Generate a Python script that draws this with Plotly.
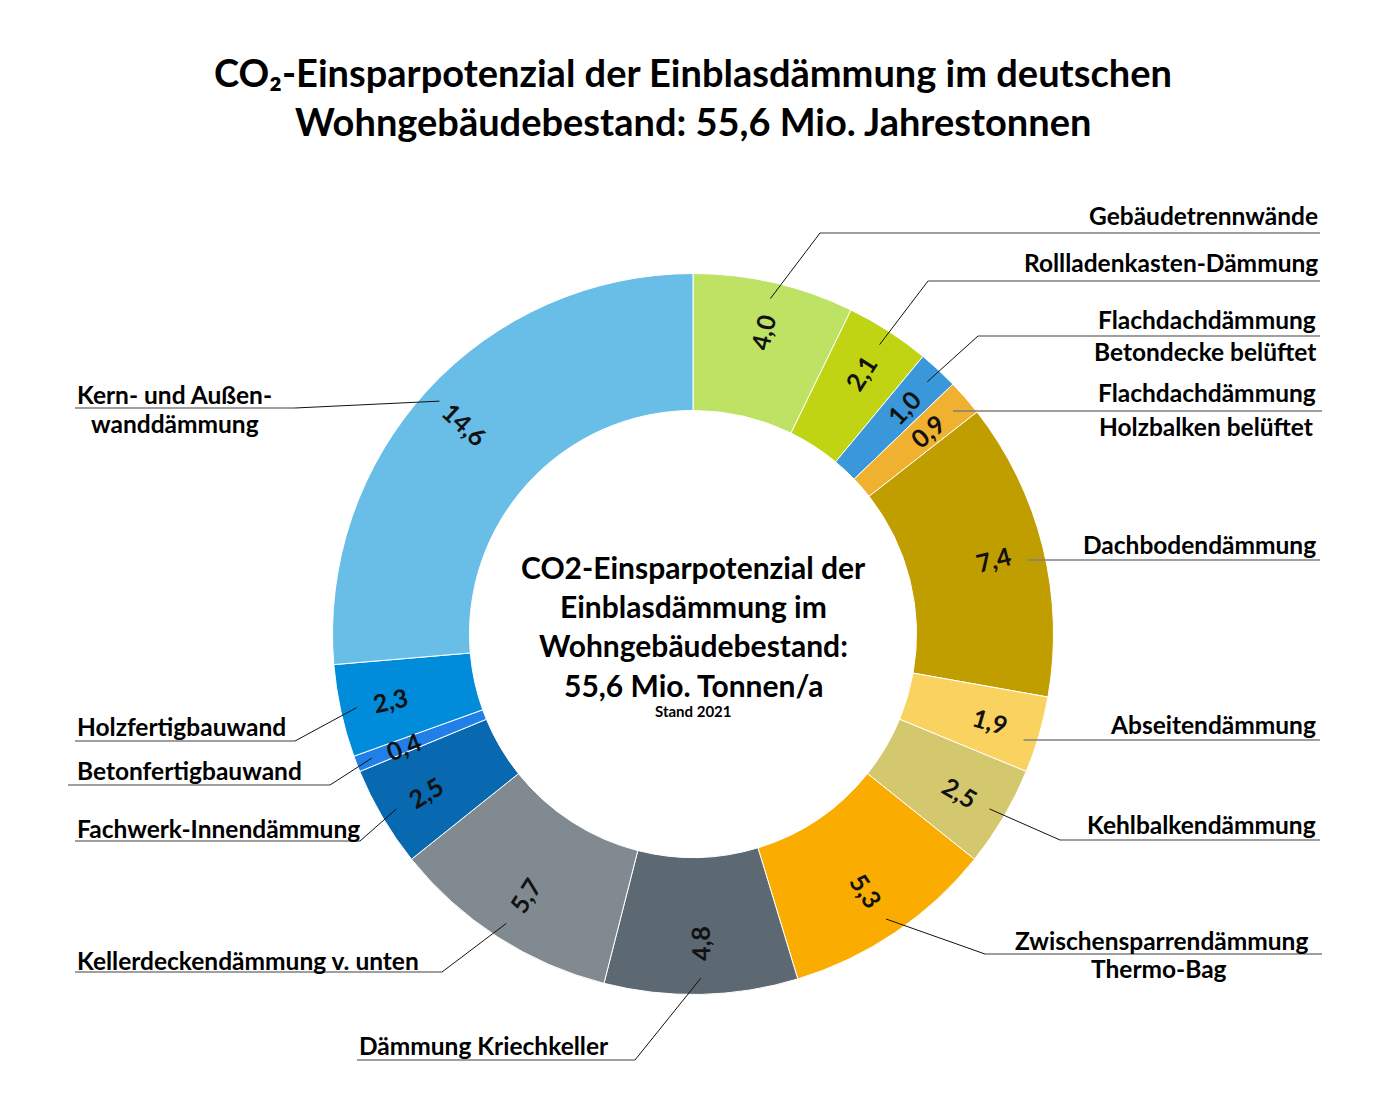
import math
import plotly.graph_objects as go

# ---------------- data ----------------
categories = [
    "Gebäudetrennwände", "Rollladenkasten-Dämmung",
    "Flachdachdämmung Betondecke belüftet", "Flachdachdämmung Holzbalken belüftet",
    "Dachbodendämmung", "Abseitendämmung", "Kehlbalkendämmung",
    "Zwischensparrendämmung Thermo-Bag", "Dämmung Kriechkeller",
    "Kellerdeckendämmung v. unten", "Fachwerk-Innendämmung",
    "Betonfertigbauwand", "Holzfertigbauwand", "Kern- und Außenwanddämmung",
]
values = [4.0, 2.1, 1.0, 0.9, 7.4, 1.9, 2.5, 5.3, 4.8, 5.7, 2.5, 0.4, 2.3, 14.6]
colors = [
    "#BDE264", "#C0D414", "#3A98DA", "#F0B030", "#C09E00", "#FAD25F", "#D4C86E",
    "#FAAC00", "#5C6872", "#808A90", "#0868B0", "#2080E8", "#008CDA", "#69BEE8",
]
title_lines = [
    "CO₂-Einsparpotenzial der Einblasdämmung im deutschen",
    "Wohngebäudebestand: 55,6 Mio. Jahrestonnen",
]
center_lines = [
    "CO2-Einsparpotenzial der", "Einblasdämmung im",
    "Wohngebäudebestand:", "55,6 Mio. Tonnen/a",
]
center_note = "Stand 2021"

# ---------------- layout constants (pixels in the page) ----------------
OFF = 8                      # default page margin of the html body
W, H = 1386 - OFF, 1109 - OFF
CX, CY, R = 693, 634, 360.5
HOLE = 0.62
FONT = "Lato"

def px(x):
    return (x - OFF) / W

def py(y):
    return 1 - (y - OFF) / H

# outside label layout: text lines (text, x, y, xanchor), underline (x0, x1, y), elbow x (None = start at slice)
label_layout = [
    dict(lines=[("Gebäudetrennwände", 1320, 215, "right")], ul=(820, 1320, 233), elbow=820),
    dict(lines=[("Rollladenkasten-Dämmung", 1320, 263, "right")], ul=(928, 1320, 281), elbow=928),
    dict(lines=[("Flachdachdämmung", 1318, 320, "right"), ("Betondecke belüftet", 1318, 352, "right")],
         ul=(978, 1320, 336), elbow=978),
    dict(lines=[("Flachdachdämmung", 1318, 393, "right"), ("Holzbalken belüftet", 1315, 427, "right")],
         ul=(None, 1322, 411), elbow=None),
    dict(lines=[("Dachbodendämmung", 1318, 544, "right")], ul=(None, 1320, 560), elbow=None),
    dict(lines=[("Abseitendämmung", 1318, 724, "right")], ul=(None, 1320, 740), elbow=None),
    dict(lines=[("Kehlbalkendämmung", 1318, 824, "right")], ul=(1060, 1320, 840), elbow=1060),
    dict(lines=[("Zwischensparrendämmung", 1310, 940, "right"), ("Thermo-Bag", 1159, 968, "center")],
         ul=(985, 1322, 954), elbow=985),
    dict(lines=[("Dämmung Kriechkeller", 357, 1045, "left")], ul=(357, 635, 1060), elbow=635),
    dict(lines=[("Kellerdeckendämmung v. unten", 75, 960, "left")], ul=(75, 442, 972), elbow=442),
    dict(lines=[("Fachwerk-Innendämmung", 75, 828, "left")], ul=(75, 360, 841), elbow=360),
    dict(lines=[("Betonfertigbauwand", 75, 770, "left")], ul=(68, 330, 785), elbow=330),
    dict(lines=[("Holzfertigbauwand", 75, 726, "left")], ul=(75, 295, 741), elbow=295),
    dict(lines=[("Kern- und Außen-", 75, 395, "left"), ("wanddämmung", 175, 423, "center")],
         ul=(75, 295, 408), elbow=295),
]

# ---------------- figure ----------------
fig = go.Figure()
fig.add_trace(go.Pie(
    labels=categories, values=values, hole=HOLE, sort=False, direction="clockwise",
    rotation=0, textinfo="none", hoverinfo="label+value",
    marker=dict(colors=colors, line=dict(color="white", width=1)),
    domain=dict(x=[px(CX - R), px(CX + R)], y=[py(CY + R), py(CY - R)]),
    showlegend=False,
))

annotations = []
shapes = []

total = sum(values)
cum = 0.0
for i, v in enumerate(values):
    a0 = cum / total * 360
    cum += v
    a1 = cum / total * 360
    mid = (a0 + a1) / 2
    rad = math.radians(mid)
    # value label (radial orientation)
    rl = 0.86 * R
    tx, ty = CX + rl * math.sin(rad), CY - rl * math.cos(rad)
    ang = mid - 90
    if ang > 85:
        ang -= 180
    annotations.append(dict(
        x=px(tx), y=py(ty), xref="paper", yref="paper", showarrow=False,
        text=f"{v:.1f}".replace(".", ","), textangle=ang,
        font=dict(family=FONT, size=25, color="#111111", weight="bold"),
        xanchor="center", yanchor="middle",
    ))
    # leader line & labels
    lay = label_layout[i]
    ra = 0.955 * R
    ax, ay = CX + ra * math.sin(rad), CY - ra * math.cos(rad)
    x0, x1, uy = lay["ul"]
    if x0 is None:
        x0 = ax
    shapes.append(dict(type="line", xref="paper", yref="paper",
                       x0=px(x0), x1=px(x1), y0=py(uy), y1=py(uy),
                       line=dict(color="#7F7F7F", width=1.5)))
    if lay["elbow"] is not None:
        shapes.append(dict(type="line", xref="paper", yref="paper",
                           x0=px(ax), y0=py(ay), x1=px(lay["elbow"]), y1=py(uy),
                           line=dict(color="#111111", width=1)))
    for (t, lx, ly, anc) in lay["lines"]:
        annotations.append(dict(
            x=px(lx), y=py(ly), xref="paper", yref="paper", showarrow=False,
            text=t, xanchor=anc, yanchor="middle",
            font=dict(family=FONT, size=24.5, color="#000000", weight="bold"),
        ))

# title
for t, y in zip(title_lines, [72, 121]):
    annotations.append(dict(
        x=px(CX), y=py(y), xref="paper", yref="paper", showarrow=False, text=t,
        xanchor="center", yanchor="middle",
        font=dict(family=FONT, size=38, color="#000000", weight="bold"),
    ))

# center text
for t, y in zip(center_lines, [567, 606, 645, 685]):
    annotations.append(dict(
        x=px(CX), y=py(y), xref="paper", yref="paper", showarrow=False, text=t,
        xanchor="center", yanchor="middle",
        font=dict(family=FONT, size=30, color="#000000", weight="bold"),
    ))
annotations.append(dict(
    x=px(CX), y=py(711), xref="paper", yref="paper", showarrow=False, text=center_note,
    xanchor="center", yanchor="middle",
    font=dict(family=FONT, size=15, color="#000000", weight="bold"),
))

fig.update_layout(
    width=W, height=H, margin=dict(l=0, r=0, t=0, b=0),
    paper_bgcolor="white", plot_bgcolor="white",
    annotations=annotations, shapes=shapes,
)

fig.write_html("out.html")
